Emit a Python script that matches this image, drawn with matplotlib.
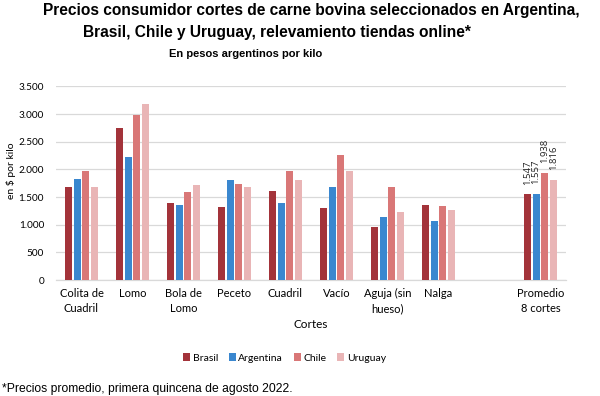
import matplotlib
matplotlib.use("Agg")
import matplotlib.pyplot as plt
import numpy as np

categories = ["Colita de\nCuadril", "Lomo", "Bola de\nLomo", "Peceto", "Cuadril",
              "Vacío", "Aguja (sin\nhueso)", "Nalga", "", "Promedio\n8 cortes"]
brasil    = [1688, 2745, 1399, 1315, 1610, 1303,  959, 1351, np.nan, 1547]
argentina = [1828, 2220, 1351, 1810, 1387, 1688, 1134, 1062, np.nan, 1557]
chile     = [1967, 2992, 1592, 1743, 1967, 2256, 1688, 1333, np.nan, 1938]
uruguay   = [1688, 3179, 1725, 1677, 1810, 1967, 1230, 1267, np.nan, 1816]
series_names = ["Brasil", "Argentina", "Chile", "Uruguay"]
colors = ["#A3333A", "#3A87CF", "#D97777", "#E9B5B6"]
yticks = [0, 500, 1000, 1500, 2000, 2500, 3000, 3500]
ytick_labels = ["0", "500", "1.000", "1.500", "2.000", "2.500", "3.000", "3.500"]
annot_labels = ["1.547", "1.557", "1.938", "1.816"]

cal = ["Lato", "DejaVu Sans"]
ari = ["Liberation Sans", "DejaVu Sans"]

fig = plt.figure(figsize=(6.0, 3.96), dpi=100)
ax = fig.add_axes([0.0933, 0.2929, 0.8500, 0.4887])

x = np.arange(len(categories))
width = 0.137
step = 0.172
data = [brasil, argentina, chile, uruguay]
for i, (vals, name, c) in enumerate(zip(data, series_names, colors)):
    offs = (i - 1.5) * step
    ax.bar(x + offs, vals, width=width, color=c, label=name, zorder=3)
    v = vals[-1]
    ax.annotate(annot_labels[i], (x[-1] + offs, v), xytext=(0, 7),
                textcoords="offset points", rotation=90, ha="center", va="bottom",
                fontsize=6.8, family=["Open Sans", "DejaVu Sans"], color="#222222")

ax.set_xlim(-0.5, len(categories) - 0.5)
ax.set_ylim(0, 3500)
ax.set_yticks(yticks)
ax.set_yticklabels(ytick_labels, family=cal, fontsize=7.2)
ax.set_xticks(x)
ax.set_xticklabels(categories, family=cal, fontsize=8, linespacing=1.45)
ax.tick_params(axis="x", length=0, pad=6)
ax.tick_params(axis="y", length=0, pad=8.5)
ax.yaxis.grid(True, color="#D9D9D9", linewidth=0.9, zorder=0)
for s in ["top", "right", "left"]:
    ax.spines[s].set_visible(False)
ax.spines["bottom"].set_color("#D9D9D9")
ax.spines["bottom"].set_linewidth(0.9)

fig.text(11 / 600, 1 - 171 / 396, "en $ por kilo", rotation=90, ha="center", va="center",
         family=cal, fontsize=7.5)
fig.text(0.517, 1 - 325 / 396, "Cortes", ha="center", va="center", family=cal, fontsize=8.5)

fig.text(311 / 600, 1 - 11 / 396, "Precios consumidor cortes de carne bovina seleccionados en Argentina,",
         ha="center", va="center", family=ari, fontsize=11.2, fontweight="bold")
fig.text(277 / 600, 1 - 32 / 396, "Brasil, Chile y Uruguay, relevamiento tiendas online*",
         ha="center", va="center", family=ari, fontsize=11.2, fontweight="bold")
fig.text(246 / 600, 1 - 54 / 396, "En pesos argentinos por kilo",
         ha="center", va="center", family=ari, fontsize=8, fontweight="bold")
fig.text(0.003, 1 - 389 / 396, "*Precios promedio, primera quincena de agosto 2022.",
         ha="left", va="center", family=ari, fontsize=8.7)

fig.legend(loc="center", bbox_to_anchor=(0.474, 1 - 358 / 396), ncol=4, frameon=False,
           prop={"family": cal, "size": 7.5}, handlelength=0.7, handleheight=0.7,
           handletextpad=0.25, columnspacing=1.0)

fig.savefig("out.png", dpi=100)
